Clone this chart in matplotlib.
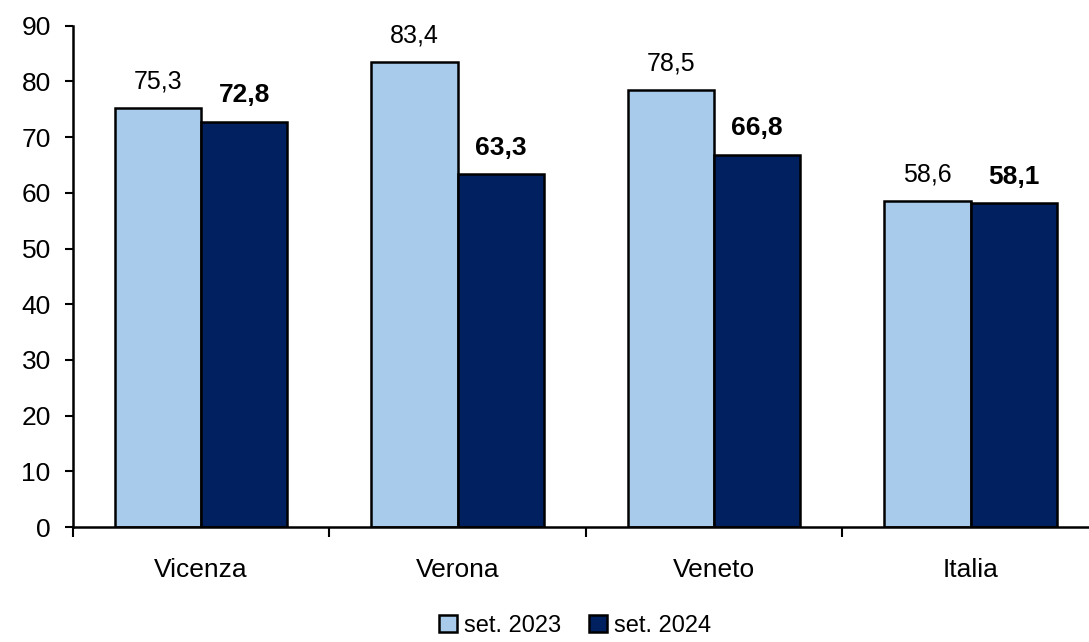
import matplotlib
matplotlib.use("Agg")
import matplotlib.pyplot as plt
import numpy as np

plt.rcParams['font.family'] = ['Liberation Sans', 'DejaVu Sans']

categories = ['Vicenza', 'Verona', 'Veneto', 'Italia']
series_2023 = [75.3, 83.4, 78.5, 58.6]
series_2024 = [72.8, 63.3, 66.8, 58.1]
labels = ['set. 2023', 'set. 2024']

fig = plt.figure(figsize=(10.89, 6.42), dpi=100)
ax = fig.add_axes([0.067, 0.179, 0.942, 0.781])

x = np.arange(len(categories))
w = 0.336
b1 = ax.bar(x - w/2, series_2023, w, color='#a9cbeb', edgecolor='black', linewidth=1.8, label=labels[0])
b2 = ax.bar(x + w/2, series_2024, w, color='#002060', edgecolor='black', linewidth=1.8, label=labels[1])

for xi, v in zip(x - w/2, series_2023):
    ax.text(xi, v + 2.6, f'{v:.1f}'.replace('.', ','), ha='center', va='bottom', fontsize=18)
for xi, v in zip(x + w/2, series_2024):
    ax.text(xi, v + 2.6, f'{v:.1f}'.replace('.', ','), ha='center', va='bottom', fontsize=19, fontweight='bold')

ax.set_xlim(-0.5, len(categories) - 0.5)
ax.set_ylim(0, 90)
ax.set_yticks(range(0, 91, 10))
ax.tick_params(axis='y', labelsize=19, length=6, width=1.5, direction='out', pad=10)
ax.set_xticks(x)
ax.set_xticklabels(categories, fontsize=19)
ax.tick_params(axis='x', length=0, pad=22)
ax.set_xticks(np.arange(-0.5, len(categories), 1), minor=True)
ax.tick_params(axis='x', which='minor', length=7, width=1.5, direction='out')

for s in ['top', 'right']:
    ax.spines[s].set_visible(False)
for s in ['left', 'bottom']:
    ax.spines[s].set_linewidth(1.8)

fig.legend(handles=[b1, b2], labels=labels, loc='lower center', bbox_to_anchor=(0.528, -0.025),
           ncol=2, frameon=False, fontsize=17, handlelength=0.75, handleheight=0.75,
           handletextpad=0.3, columnspacing=1.2)

fig.savefig('out.png', dpi=100)
